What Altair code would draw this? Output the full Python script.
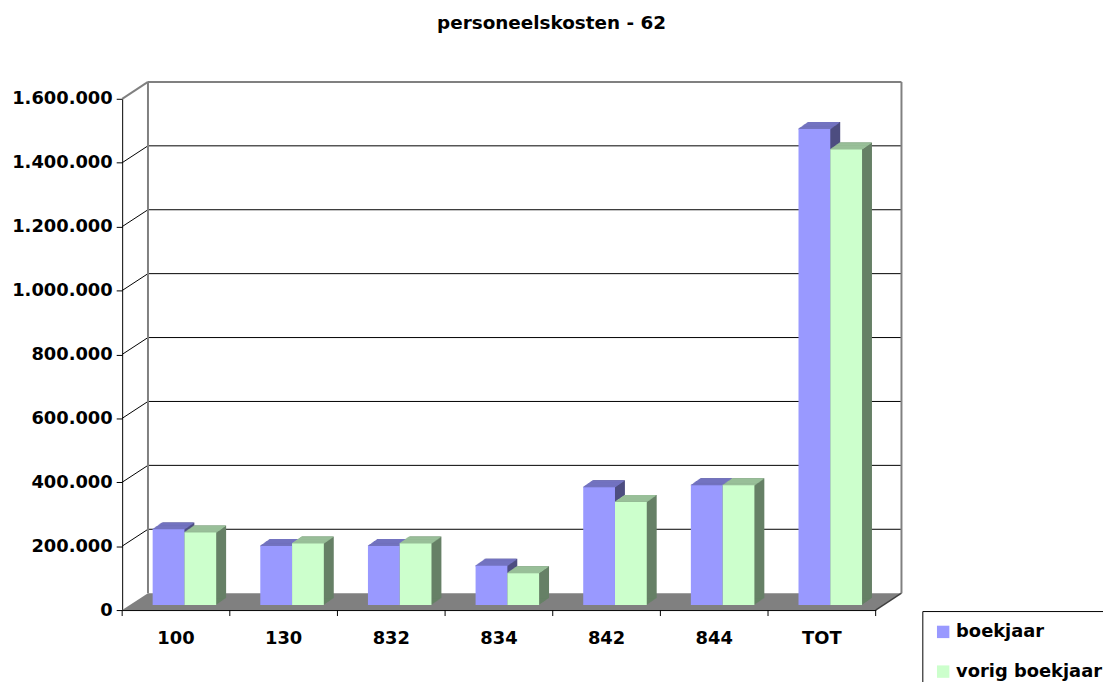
import altair as alt
import pandas as pd

# ---------------- data ----------------
CATEGORIES = ["100", "130", "832", "834", "842", "844", "TOT"]
SERIES = ["boekjaar", "vorig boekjaar"]
BOEKJAAR = [237000, 185000, 185000, 123000, 369000, 375000, 1490000]
VORIG_BOEKJAAR = [227000, 193000, 193000, 100000, 323000, 375000, 1426000]
Y_TICKS = [0, 200000, 400000, 600000, 800000, 1000000, 1200000, 1400000, 1600000]
TITLE = "personeelskosten - 62"

# ---------------- style ----------------
FRONT = ["#9999FF", "#CCFFCC"]
TOP = ["#7373C0", "#99BF99"]
SIDE = ["#4D4D80", "#668066"]
FONT = "DejaVu Sans"
W, H = 759, 515
WALL_DX, WALL_DY = 26, 17      # depth of the back wall
PLANE_DX, PLANE_DY = 8.5, 5    # bars stand a little behind the front edge
BOX_DX, BOX_DY = 10, 7         # depth of each bar
BAR_W = 32
STEPS = 10
STEP = W / len(CATEGORIES)

rows = []
for c, b, v in zip(CATEGORIES, BOEKJAAR, VORIG_BOEKJAAR):
    rows.append({"cat": c, "series": SERIES[0], "value": b})
    rows.append({"cat": c, "series": SERIES[1], "value": v})
df = pd.DataFrame(rows)
inner_ticks_df = pd.DataFrame({"value": Y_TICKS[1:-1]})
top_tick_df = pd.DataFrame({"value": Y_TICKS[-1:]})
cats_df = pd.DataFrame({"cat": CATEGORIES})

x_scale = alt.Scale(domain=CATEGORIES, paddingInner=0, paddingOuter=0)
y_scale = alt.Scale(domain=[Y_TICKS[0], Y_TICKS[-1]], nice=False, zero=True)

x_axis = alt.Axis(ticks=False, domainColor="black", domainWidth=1, labelAngle=0,
                  labelFont=FONT, labelFontSize=18, labelFontWeight="bold",
                  labelColor="black", labelPadding=20, title=None, grid=False)
y_axis = alt.Axis(values=Y_TICKS, tickSize=6, tickColor="black", domainColor="black",
                  domainWidth=1, labelFont=FONT, labelFontSize=18,
                  labelFontWeight="bold", labelColor="black", labelPadding=4,
                  grid=False, title=None,
                  labelExpr="replace(replace(format(datum.value, ','), ',', '.'), ',', '.')")

X = alt.X("cat:N", scale=x_scale, axis=x_axis, sort=CATEGORIES)
Y = alt.Y("value:Q", scale=y_scale, axis=y_axis)

layers = []

# floor (parallelogram)
floor_path = f"M0,0L{W},0L{W + WALL_DX},{-WALL_DY}L{WALL_DX},{-WALL_DY}Z"
layers.append(
    alt.Chart(pd.DataFrame({"k": [0]})).mark_point(
        shape=floor_path, size=4, filled=True, fill="#808080", opacity=1,
        strokeWidth=0)
    .encode(x=alt.value(0), y=alt.value(H))
)
# darker right edge of the floor
layers.append(
    alt.Chart(pd.DataFrame({"k": [0]})).mark_rule(color="#404040", strokeWidth=1.5)
    .encode(x=alt.value(W), y=alt.value(H), x2=alt.value(W + WALL_DX),
            y2=alt.value(H - WALL_DY))
)

# side wall diagonals
layers.append(
    alt.Chart(inner_ticks_df).mark_rule(color="black", strokeWidth=1, y2Offset=-WALL_DY)
    .encode(x=alt.value(0), x2=alt.value(WALL_DX), y=Y, y2=alt.Y2("value:Q"))
)
layers.append(
    alt.Chart(top_tick_df).mark_rule(color="#808080", strokeWidth=2, y2Offset=-WALL_DY)
    .encode(x=alt.value(0), x2=alt.value(WALL_DX), y=Y, y2=alt.Y2("value:Q"))
)
# back wall gridlines
layers.append(
    alt.Chart(inner_ticks_df).mark_rule(color="black", strokeWidth=1, yOffset=-WALL_DY)
    .encode(x=alt.value(WALL_DX), x2=alt.value(W + WALL_DX), y=Y)
)
layers.append(
    alt.Chart(top_tick_df).mark_rule(color="#808080", strokeWidth=2, yOffset=-WALL_DY)
    .encode(x=alt.value(WALL_DX), x2=alt.value(W + WALL_DX), y=Y)
)
# back wall vertical edges
for xv in (WALL_DX, W + WALL_DX):
    layers.append(
        alt.Chart(pd.DataFrame({"k": [0]})).mark_rule(color="#808080", strokeWidth=2)
        .encode(x=alt.value(xv), y=alt.value(-WALL_DY), y2=alt.value(H - WALL_DY))
    )

base_off = [PLANE_DX - BAR_W / 2, PLANE_DX + BAR_W / 2]
dxs = BOX_DX / STEPS
dys = BOX_DY / STEPS

# side faces
for s, name in enumerate(SERIES):
    for k in range(1, STEPS + 1):
        layers.append(
            alt.Chart(df).transform_filter(alt.datum.series == name)
            .mark_bar(width=BAR_W, color=SIDE[s], xOffset=base_off[s] + k * dxs,
                      yOffset=-PLANE_DY - k * dys, y2Offset=-PLANE_DY - k * dys)
            .encode(x=X, y=Y)
        )
# top faces
for s, name in enumerate(SERIES):
    for k in range(STEPS):
        layers.append(
            alt.Chart(df).transform_filter(alt.datum.series == name)
            .mark_bar(width=BAR_W, color=TOP[s], xOffset=base_off[s] + k * dxs,
                      yOffset=-PLANE_DY - (k + 1) * dys,
                      y2Offset=-PLANE_DY - k * dys + 0.6)
            .encode(x=X, y=Y, y2=alt.Y2("value:Q"))
        )
# front faces
legend = alt.Legend(orient="none", legendX=806, legendY=516, title=None,
                    strokeColor="black", fillColor="white", padding=12,
                    symbolType="square", symbolSize=156, symbolStrokeWidth=0,
                    symbolOpacity=1, labelFont=FONT, labelFontSize=18,
                    labelFontWeight="bold", labelColor="black", labelOffset=4,
                    labelLimit=400, rowPadding=22, cornerRadius=0)
for s, name in enumerate(SERIES):
    layers.append(
        alt.Chart(df).transform_filter(alt.datum.series == name)
        .mark_bar(width=BAR_W, xOffset=base_off[s], yOffset=-PLANE_DY,
                  y2Offset=-PLANE_DY, opacity=1)
        .encode(x=X, y=Y,
                color=alt.Color("series:N",
                                scale=alt.Scale(domain=SERIES, range=FRONT),
                                legend=legend))
    )

# x axis tick marks at the category boundaries
layers.append(
    alt.Chart(cats_df).mark_rule(color="black", strokeWidth=1, xOffset=-STEP / 2)
    .encode(x=X, y=alt.value(H), y2=alt.value(H + 6))
)
layers.append(
    alt.Chart(pd.DataFrame({"k": [0]})).mark_rule(color="black", strokeWidth=1)
    .encode(x=alt.value(W), y=alt.value(H), y2=alt.value(H + 6))
)

chart = (
    alt.layer(*layers)
    .properties(
        width=W, height=H,
        title=alt.TitleParams(TITLE, font=FONT, fontSize=18.5, fontWeight="bold",
                              color="black", anchor="middle", frame="group",
                              offset=34, dx=53, baseline="alphabetic"),
        autosize=alt.AutoSizeParams(type="none"),
        padding={"left": 115, "top": 89, "right": 229, "bottom": 70},
    )
    .configure_view(stroke=None)
)

chart.save("out.html", embed_options={"renderer": "svg", "actions": False})
